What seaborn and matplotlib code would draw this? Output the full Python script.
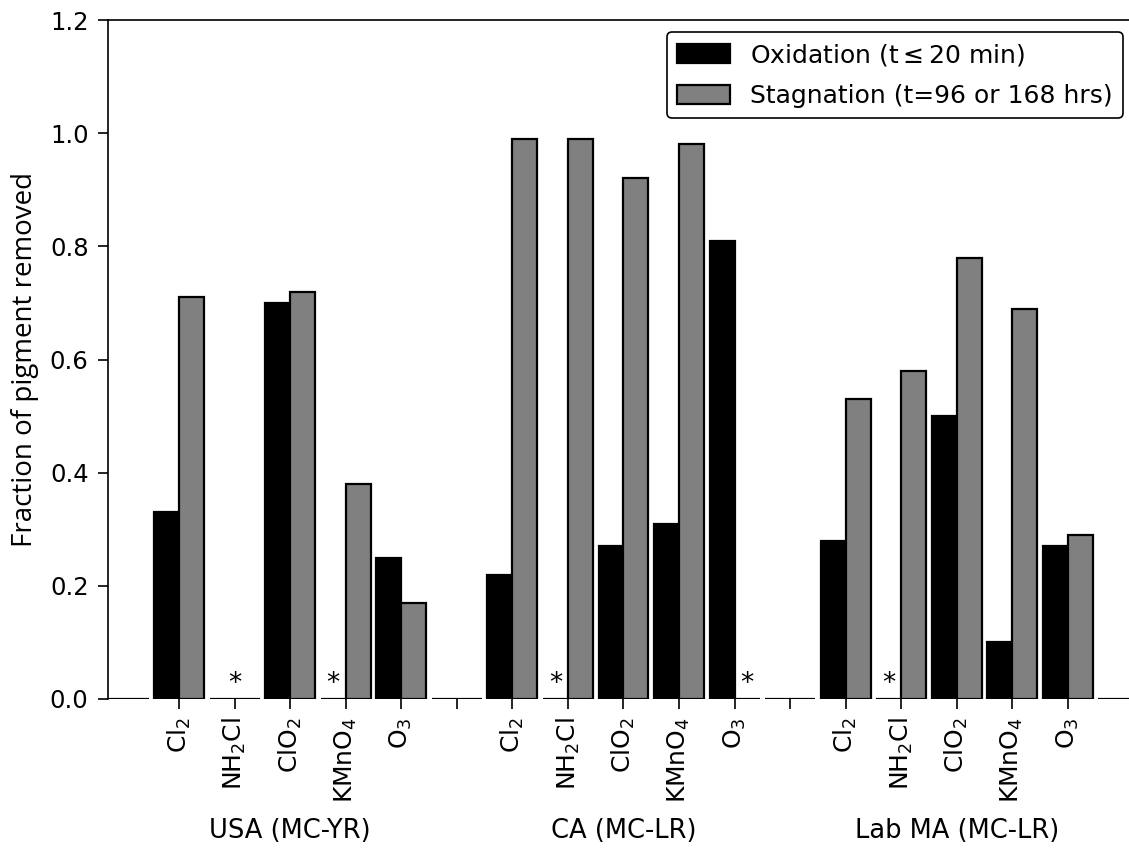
import numpy as np
import pandas as pd
import matplotlib
matplotlib.use("Agg")
import matplotlib.pyplot as plt
import seaborn as sns

sns.set_style("ticks")
plt.rcParams['font.family'] = ['DejaVu Sans']
plt.rcParams['mathtext.default'] = 'regular'
plt.rcParams['text.color'] = 'black'
plt.rcParams['xtick.color'] = 'black'
plt.rcParams['ytick.color'] = 'black'
plt.rcParams['axes.labelcolor'] = 'black'
plt.rcParams['axes.edgecolor'] = 'black'

groups = ["USA (MC-YR)", "CA (MC-LR)", "Lab MA (MC-LR)"]
oxidants = [r"Cl$_2$", r"NH$_2$Cl", r"ClO$_2$", r"KMnO$_4$", r"O$_3$"]
series = ["Oxidation (t$\\leq$20 min)", "Stagnation (t=96 or 168 hrs)"]

oxidation_usa = [0.33, 0.0, 0.70, 0.0, 0.25]
oxidation_ca = [0.22, 0.0, 0.27, 0.31, 0.81]
oxidation_lab = [0.28, 0.0, 0.50, 0.10, 0.27]
stagnation_usa = [0.71, 0.0, 0.72, 0.38, 0.17]
stagnation_ca = [0.99, 0.99, 0.92, 0.98, 0.0]
stagnation_lab = [0.53, 0.58, 0.78, 0.69, 0.29]

# not detected markers: (group index, oxidant index, which series; None = both)
not_detected = [(0, 1, None), (0, 3, 0), (1, 1, 0), (1, 4, 1), (2, 1, 0)]

ox_all = [oxidation_usa, oxidation_ca, oxidation_lab]
st_all = [stagnation_usa, stagnation_ca, stagnation_lab]

# build slots: gap, 5 oxidants, gap, 5 oxidants, gap, 5 oxidants, gap
rows = []
slot = 0
slot_labels = []
rows.append((slot, series[0], 0.0)); rows.append((slot, series[1], 0.0)); slot_labels.append("")
slot += 1
for g in range(3):
    for k in range(5):
        rows.append((slot, series[0], ox_all[g][k]))
        rows.append((slot, series[1], st_all[g][k]))
        slot_labels.append(oxidants[k])
        slot += 1
    rows.append((slot, series[0], 0.0)); rows.append((slot, series[1], 0.0)); slot_labels.append("")
    slot += 1
df = pd.DataFrame(rows, columns=["slot", "series", "value"])

fig = plt.figure(figsize=(11.29, 8.48), dpi=100)
ax = fig.add_axes([108/1129, 1-699/848, 1-108/1129, (699-20)/848])

sns.barplot(data=df, x="slot", y="value", hue="series", hue_order=series,
            order=list(range(slot)), palette=["#000000", "#808080"],
            width=0.9, dodge=True, edgecolor="black", linewidth=1.6,
            saturation=1, ax=ax, errorbar=None, native_scale=False)

ax.set_xlim(-0.28, 18.1)
ax.set_ylim(0, 1.2)
ax.set_yticks(np.arange(0, 1.21, 0.2))
ax.set_yticklabels([f"{v:.1f}" for v in np.arange(0, 1.21, 0.2)], fontsize=17.5)
ticks = list(range(1, slot - 1))
ax.set_xticks(ticks)
ax.set_xticklabels([slot_labels[t] for t in ticks], rotation=90, fontsize=18)
ax.tick_params(axis='both', length=7, width=1.2, direction='out')
ax.tick_params(axis='y', pad=7)
ax.tick_params(axis='x', pad=6)
ax.set_xlabel("")
ax.set_ylabel("Fraction of pigment removed", fontsize=20, family="Open Sans", labelpad=8)
for s in ["bottom", "right"]:
    ax.spines[s].set_visible(False)
for s in ["left", "top"]:
    ax.spines[s].set_linewidth(1.2)

# asterisks
for g, k, which in not_detected:
    pos = 1 + g * 6 + k
    if which is None:
        xs = pos
    elif which == 0:
        xs = pos - 0.225
    else:
        xs = pos + 0.225
    ax.text(xs, 0.003, "*", ha="center", va="bottom", fontsize=19)

# group labels
for g, name in enumerate(groups):
    ax.text(1 + g * 6 + 2, -0.195, name, ha="center", va="center", fontsize=18.5,
            transform=ax.get_xaxis_transform())

leg = ax.legend(loc="upper right", fontsize=18, frameon=True, fancybox=True,
                edgecolor="black", framealpha=1, borderaxespad=0,
                labelspacing=0.65, handleheight=0.8, handlelength=2.15,
                bbox_to_anchor=(1 - 6/1021, 1 - 12/679))
leg.get_frame().set_linewidth(1.2)

fig.savefig("out.png", dpi=100)
